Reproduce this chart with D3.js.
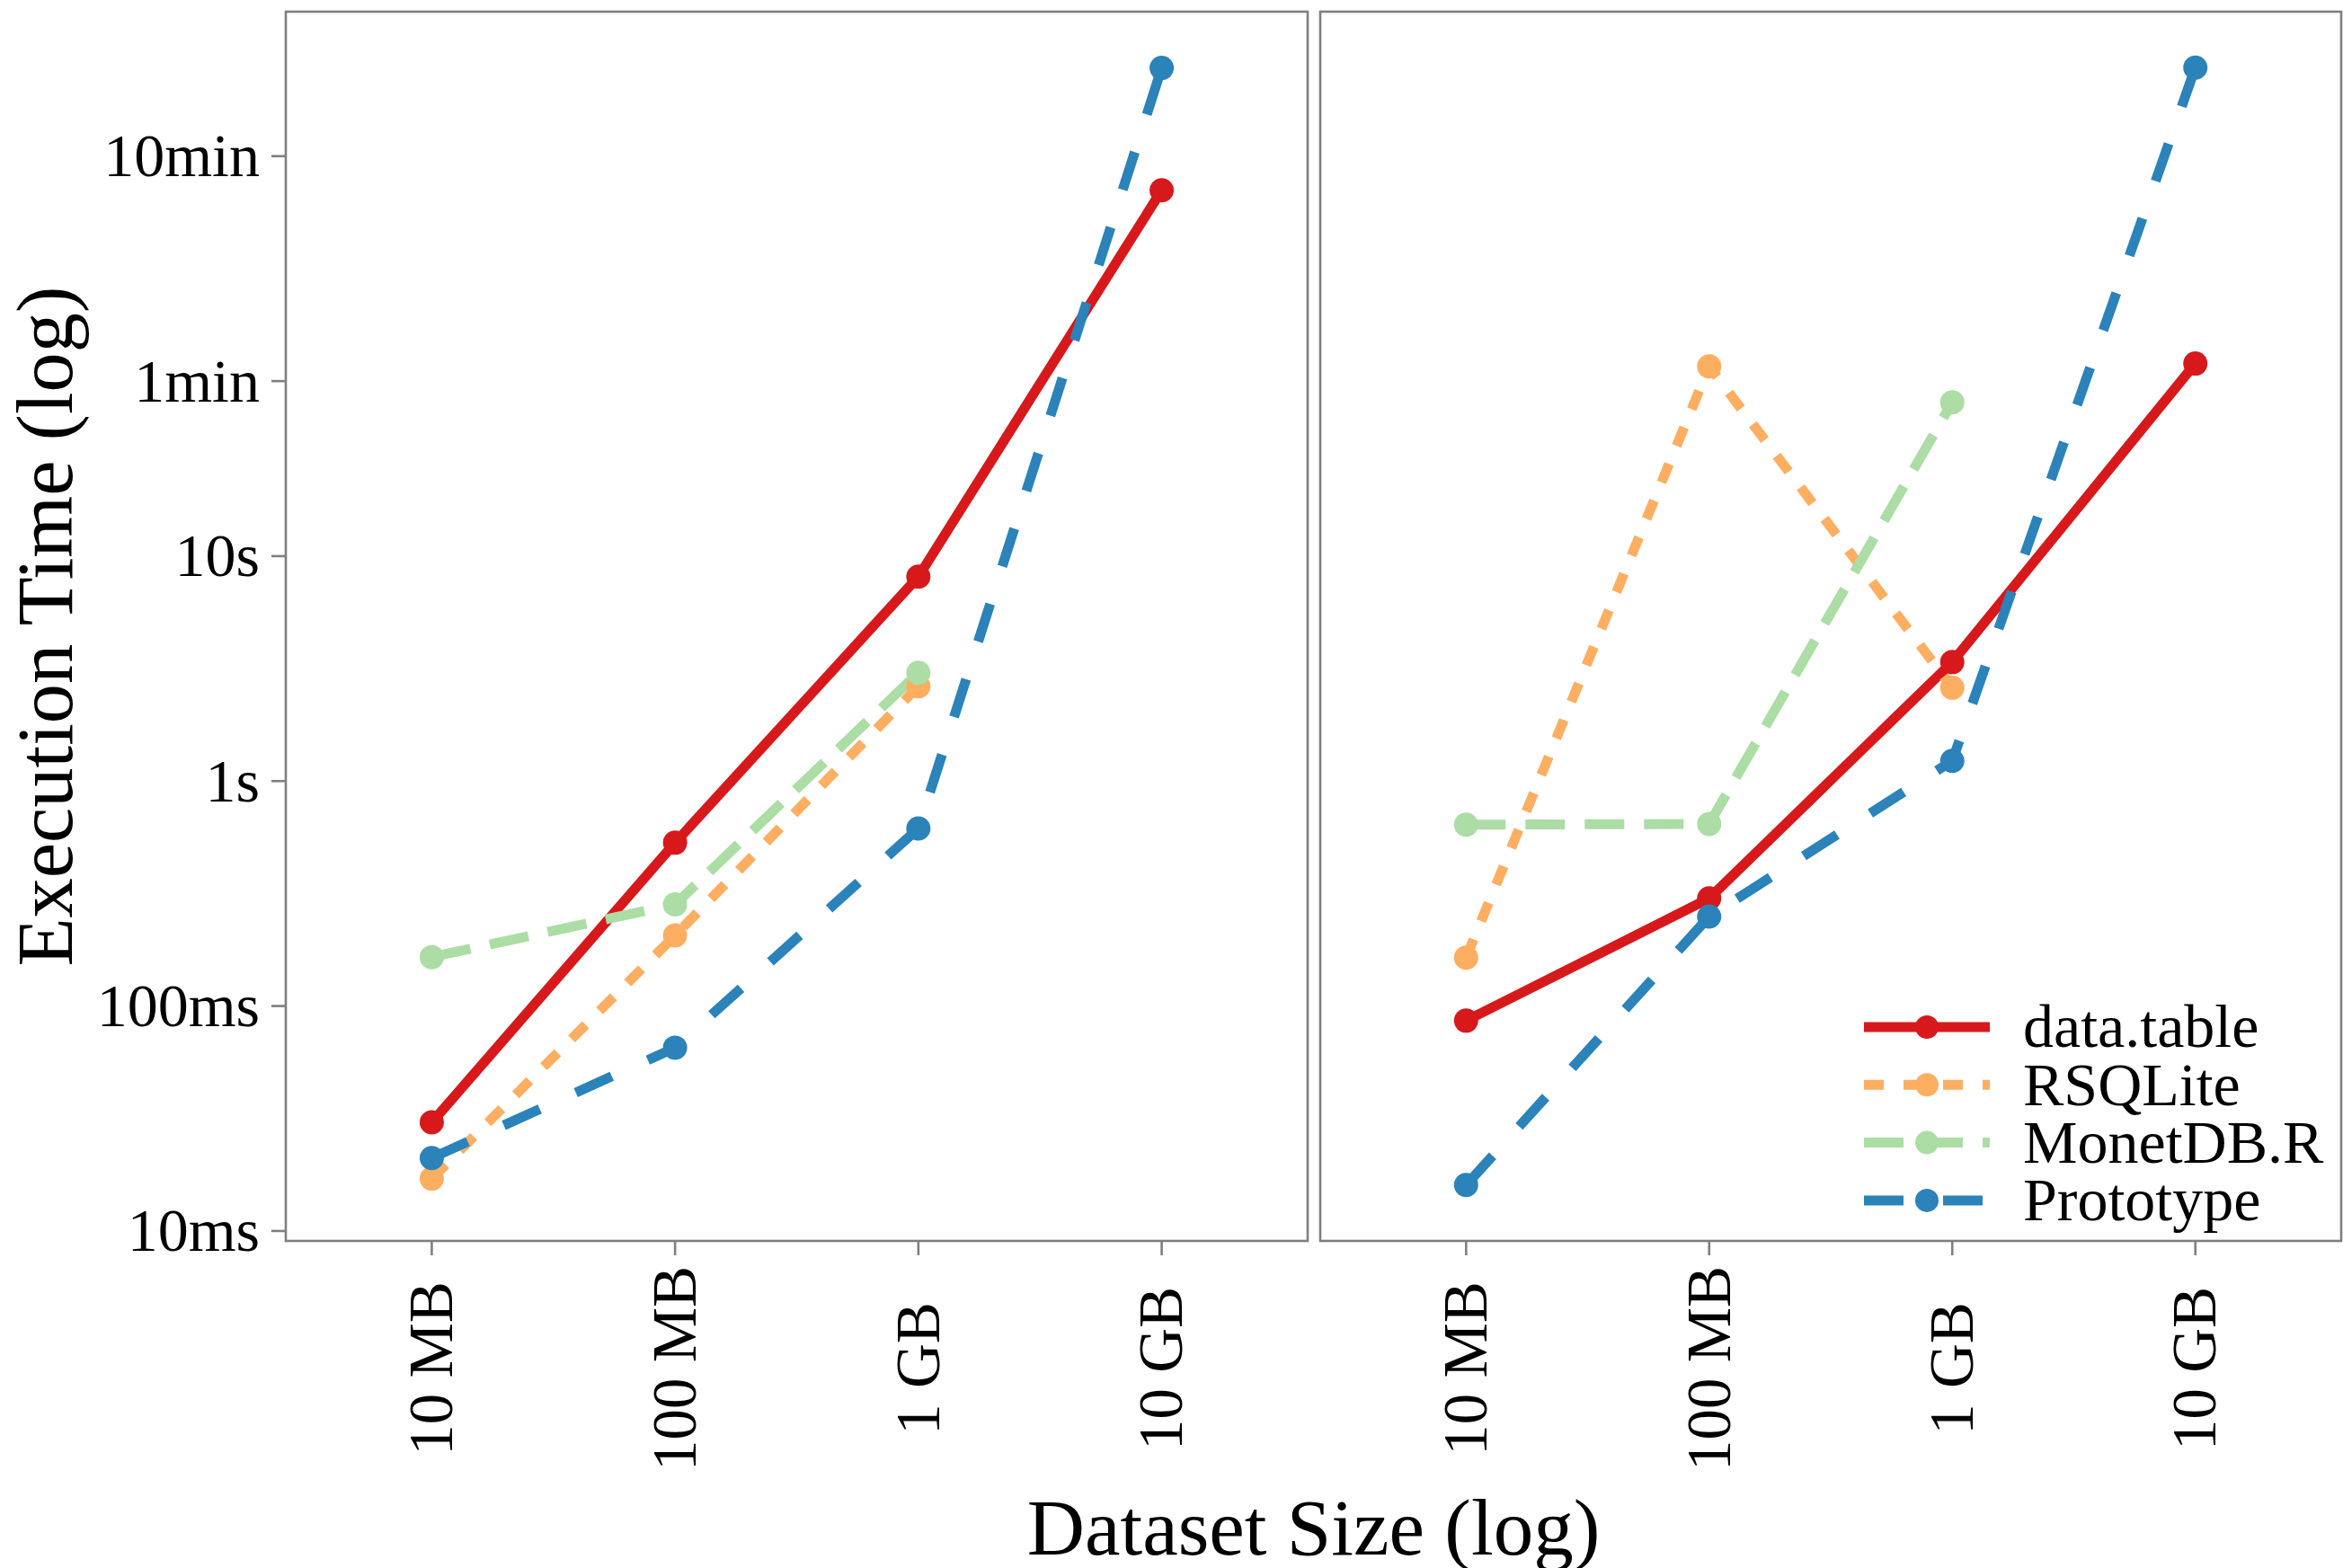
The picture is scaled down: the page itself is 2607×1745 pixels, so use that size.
<!DOCTYPE html>
<html>
<head>
<meta charset="utf-8">
<script src="https://cdn.jsdelivr.net/npm/d3@7"></script>
<style>
  html, body { margin: 0; padding: 0; background: #fff; }
  svg { display: block; }
  text { font-family: "Liberation Serif", "Times New Roman", serif; fill: #000; }
</style>
</head>
<body>
<svg id="chart" width="2607" height="1745"></svg>
<script>
// dataset sizes on x, seconds on y
const sizes = ["10 MB", "100 MB", "1 GB", "10 GB"];
const systems = ["data.table", "RSQLite", "MonetDB.R", "Prototype"];
const colors = ["#d7191c", "#fdae61", "#abdda4", "#2b83ba"];
const dashes = [null, "22,22", "44,22", "44,44"];

const timeTicks = [0.01, 0.1, 1, 10, 60, 600];
const timeLabels = ["10ms", "100ms", "1s", "10s", "1min", "10min"];

// left panel
const leftDataTable = [0.0304, 0.532, 8.1, 423];
const leftRSQLite   = [0.0171, 0.206, 2.64, null];
const leftMonetDB   = [0.165, 0.283, 3.03, null];
const leftPrototype = [0.0211, 0.0653, 0.616, 1480];

// right panel
const rightDataTable = [0.0861, 0.301, 3.38, 71.8];
const rightRSQLite   = [0.164, 69.7, 2.60, null];
const rightMonetDB   = [0.64, 0.645, 48.3, null];
const rightPrototype = [0.0160, 0.250, 1.23, 1486];

const panels = [
  {x0: 318, x1: 1455, series: [leftDataTable, leftRSQLite, leftMonetDB, leftPrototype]},
  {x0: 1469, x1: 2605, series: [rightDataTable, rightRSQLite, rightMonetDB, rightPrototype]}
];
const plotTop = 13, plotBottom = 1381;

const svg = d3.select("#chart");

// log y with ggplot-like 5% expansion
const all = panels.flatMap(p => p.series.flat()).filter(v => v != null);
const lo = Math.log10(d3.min(all)), hi = Math.log10(d3.max(all));
const pad = (hi - lo) * 0.05;
const y = d3.scaleLog().domain([10 ** (lo - pad), 10 ** (hi + pad)]).range([plotBottom, plotTop]);

const grey = "#7f7f7f";

panels.forEach((p, pi) => {
  const x = d3.scalePoint().domain(sizes).range([p.x0, p.x1]).padding(0.6);
  const g = svg.append("g");

  g.append("rect")
    .attr("x", p.x0).attr("y", plotTop)
    .attr("width", p.x1 - p.x0).attr("height", plotBottom - plotTop)
    .attr("fill", "none").attr("stroke", grey).attr("stroke-width", 2.6);

  // x ticks + labels
  const xt = g.selectAll(".xt").data(sizes).enter().append("g")
    .attr("transform", d => `translate(${x(d)},0)`);
  xt.append("line").attr("y1", plotBottom).attr("y2", plotBottom + 16)
    .attr("stroke", grey).attr("stroke-width", 2.6);
  xt.append("text")
    .attr("transform", `translate(0,1523) rotate(-90)`)
    .attr("text-anchor", "middle").attr("dy", "0.33em")
    .attr("font-size", 69)
    .text(d => d);

  // y axis only on first panel
  if (pi === 0) {
    const yt = g.selectAll(".yt").data(timeTicks).enter().append("g")
      .attr("transform", d => `translate(0,${y(d)})`);
    yt.append("line").attr("x1", p.x0 - 16).attr("x2", p.x0)
      .attr("stroke", grey).attr("stroke-width", 2.6);
    yt.append("text")
      .attr("x", 289).attr("dy", "0.33em")
      .attr("text-anchor", "end").attr("font-size", 68)
      .text((d, i) => timeLabels[i]);
  }

  const line = d3.line()
    .defined(d => d.v != null)
    .x(d => x(d.s)).y(d => y(d.v));

  const rows = p.series.map((vals, si) => vals.map((v, k) => ({s: sizes[k], v, si})));

  rows.forEach((r, si) => {
    g.append("path")
      .datum(r)
      .attr("d", line)
      .attr("fill", "none")
      .attr("stroke", colors[si])
      .attr("stroke-width", 11)
      .attr("stroke-dasharray", dashes[si])
      .attr("stroke-linejoin", "round");
  });
  rows.forEach((r, si) => {
    g.selectAll(null).data(r.filter(d => d.v != null)).enter().append("circle")
      .attr("cx", d => x(d.s)).attr("cy", d => y(d.v))
      .attr("r", 13.5).attr("fill", colors[si]);
  });

  // legend inside right panel
  if (pi === 1) {
    const lg = svg.append("g").attr("transform", `translate(${p.x1 - 531},1143)`);
    const item = lg.selectAll("g").data(systems).enter().append("g")
      .attr("transform", (d, i) => `translate(0,${i * 64.3})`);
    item.append("line").attr("x1", 0).attr("x2", 140)
      .attr("stroke", (d, i) => colors[i]).attr("stroke-width", 11)
      .attr("stroke-dasharray", (d, i) => dashes[i]);
    item.append("circle").attr("cx", 70).attr("r", 13).attr("fill", (d, i) => colors[i]);
    item.append("text").attr("x", 177).attr("dy", "0.33em")
      .attr("font-size", 68).text(d => d);
  }
});

// axis titles
svg.append("text")
  .attr("transform", `translate(80,${(plotTop + plotBottom) / 2}) rotate(-90)`)
  .attr("text-anchor", "middle").attr("font-size", 88.5)
  .text("Execution Time (log)");

svg.append("text")
  .attr("x", (panels[0].x0 + panels[1].x1) / 2).attr("y", 1730)
  .attr("text-anchor", "middle").attr("font-size", 89)
  .text("Dataset Size (log)");
</script>
</body>
</html>
